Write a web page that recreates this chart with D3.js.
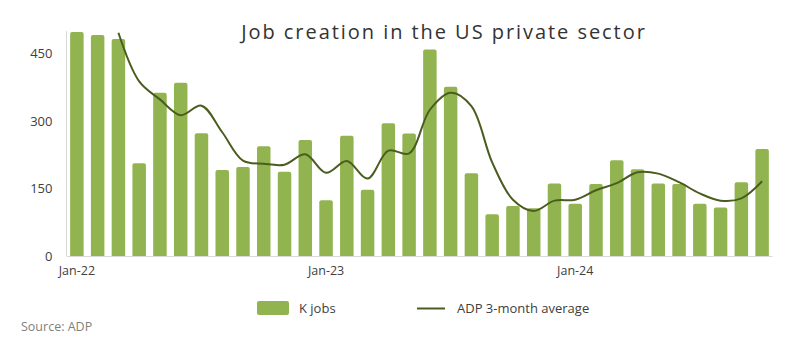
<!DOCTYPE html>
<html>
<head>
<meta charset="utf-8">
<script src="https://cdn.jsdelivr.net/npm/d3@7"></script>
<style>
body { margin: 0; background: #fff; }
svg { display: block; font-family: "Open Sans", "Liberation Sans", sans-serif; }
</style>
</head>
<body>
<svg id="chart" width="797" height="347"></svg>
<script>
// months Jan-22 .. Oct-24
var months = ["Jan-22","Feb-22","Mar-22","Apr-22","May-22","Jun-22","Jul-22","Aug-22","Sep-22","Oct-22","Nov-22","Dec-22",
  "Jan-23","Feb-23","Mar-23","Apr-23","May-23","Jun-23","Jul-23","Aug-23","Sep-23","Oct-23","Nov-23","Dec-23",
  "Jan-24","Feb-24","Mar-24","Apr-24","May-24","Jun-24","Jul-24","Aug-24","Sep-24","Oct-24"];

var kJobs = [498, 491, 482, 206, 363, 385, 273, 191, 198, 244, 187, 258,
  124, 267, 147, 295, 272, 459, 376, 184, 93, 111, 106, 161,
  116, 160, 213, 193, 161, 160, 116, 108, 164, 238];

// 3-month average (starts Mar-22)
var avg3 = [null, null, 496, 388, 348, 313, 334, 275, 212, 205, 203, 226,
  185, 211, 172, 234, 228, 325, 363, 333, 208, 125, 100, 123,
  125, 146, 162, 186, 183, 164, 139, 123, 128, 166];

var yTicks = [0, 150, 300, 450];
var xLabels = ["Jan-22", "Jan-23", "Jan-24"];

var svg = d3.select("#chart");
var plotL = 66.5, plotR = 772.5, plotT = 31, plotB = 256;

var x = d3.scaleBand().domain(months).range([plotL, plotR]).paddingInner(0.35).paddingOuter(0.175);
var y = d3.scaleLinear().domain([0, 500]).range([plotB, plotT]);

svg.append("defs").append("clipPath").attr("id", "plot")
  .append("rect").attr("x", plotL).attr("y", plotT).attr("width", plotR - plotL).attr("height", plotB - plotT);

// title
svg.append("text").attr("x", 444).attr("y", 39).attr("text-anchor", "middle")
  .style("font-size", "20px").style("letter-spacing", "1.95px").style("fill", "#333")
  .text("Job creation in the US private sector");

// y axis labels
var yAxis = svg.append("g").attr("transform", "translate(" + plotL + ",0)")
  .call(d3.axisLeft(y).tickValues(yTicks).tickSize(0).tickPadding(14));
yAxis.select(".domain").attr("stroke", "#d9d9d9").attr("d", "M0," + plotT + "V" + plotB);
yAxis.selectAll("text").style("font-size", "13px").style("fill", "#404040").style("font-family", "Open Sans, sans-serif");

// bars
var g = svg.append("g").attr("clip-path", "url(#plot)");
g.selectAll("path.bar").data(months).enter().append("path")
  .attr("class", "bar")
  .attr("fill", "#92b450")
  .attr("d", function(d, i) {
    var x0 = x(d), w = x.bandwidth(), y0 = y(kJobs[i]), r = 2;
    return "M" + x0 + "," + plotB + "V" + (y0 + r) + "Q" + x0 + "," + y0 + " " + (x0 + r) + "," + y0 +
      "H" + (x0 + w - r) + "Q" + (x0 + w) + "," + y0 + " " + (x0 + w) + "," + (y0 + r) + "V" + plotB + "Z";
  });

// x axis
var xAxis = svg.append("g").attr("transform", "translate(0," + plotB + ")")
  .call(d3.axisBottom(x).tickValues(xLabels).tickSize(0).tickPadding(10));
xAxis.select(".domain").attr("stroke", "#d9d9d9").attr("d", "M" + plotL + ",0.5H" + plotR);
xAxis.selectAll("text").style("font-size", "12.5px").style("fill", "#404040").style("font-family", "Open Sans, sans-serif");

// 3-month average line
var line = d3.line()
  .defined(function(d) { return d != null; })
  .x(function(d, i) { return x(months[i]) + x.bandwidth() / 2; })
  .y(function(d) { return y(d); })
  .curve(d3.curveCatmullRom.alpha(0.5));

g.append("path").datum(avg3)
  .attr("fill", "none").attr("stroke", "#4a5d1f").attr("stroke-width", 2)
  .attr("d", line);

// legend
var lg = svg.append("g").style("font-size", "13px").style("fill", "#404040");
lg.append("rect").attr("x", 257).attr("y", 301).attr("width", 32).attr("height", 14).attr("rx", 2).attr("fill", "#92b450");
lg.append("text").attr("x", 299).attr("y", 313).text("K jobs");
lg.append("line").attr("x1", 417).attr("x2", 445).attr("y1", 308.5).attr("y2", 308.5)
  .attr("stroke", "#4a5d1f").attr("stroke-width", 2);
lg.append("text").attr("x", 457).attr("y", 313).text("ADP 3-month average");

svg.append("text").attr("x", 21).attr("y", 331).style("font-size", "12.5px").style("fill", "#7f7f7f")
  .text("Source: ADP");
</script>
</body>
</html>
